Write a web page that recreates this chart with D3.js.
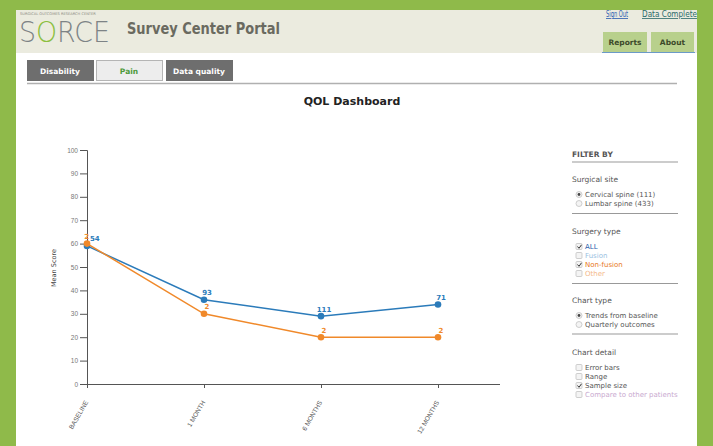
<!DOCTYPE html>
<html><head><meta charset="utf-8">
<script src="https://cdn.jsdelivr.net/npm/d3@7"></script>
<style>
html,body{margin:0;padding:0;background:#8fba4a;}
svg{display:block;font-family:"DejaVu Sans",Verdana,sans-serif;}
</style></head>
<body>
<svg id="c" width="713" height="446"></svg>
<script>
const categories = ["BASELINE", "1 MONTH", "6 MONTHS", "12 MONTHS"];
const allValues = [59, 36, 29, 34];
const allCounts = ["54", "93", "111", "71"];
const nonFusionValues = [60, 30, 20, 20];
const nonFusionCounts = ["2", "2", "2", "2"];
const yTicks = [0, 10, 20, 30, 40, 50, 60, 70, 80, 90, 100];
const seriesNames = ["ALL", "Non-fusion"];
const seriesColors = ["#2b7bba", "#f0892a"];

const svg = d3.select("#c");
// frame
svg.append("rect").attr("x",0).attr("y",0).attr("width",713).attr("height",446).attr("fill","#8fba4a");
svg.append("rect").attr("x",16).attr("y",10).attr("width",681).attr("height",436).attr("fill","#ffffff");
svg.append("rect").attr("x",16).attr("y",10).attr("width",681).attr("height",43).attr("fill","#ebebdf");

// header
svg.append("text").attr("x",20).attr("y",15).attr("font-size",3.6).attr("fill","#8a8a80").text("SURGICAL OUTCOMES RESEARCH CENTER");
const logo = svg.append("text").attr("x",19).attr("y",42).attr("font-size",29).attr("font-weight",300).attr("fill","#7d8386")
  .attr("textLength",91).attr("lengthAdjust","spacingAndGlyphs");
logo.append("tspan").text("S");
logo.append("tspan").attr("fill","#8cbf3f").text("O");
logo.append("tspan").text("RCE");
svg.append("text").attr("x",127).attr("y",34).attr("font-size",16).attr("font-weight","bold").attr("fill","#6a6a60")
  .attr("textLength",153).attr("lengthAdjust","spacingAndGlyphs").text("Survey Center Portal");
svg.append("text").attr("x",606).attr("y",17).attr("font-size",8).attr("fill","#2a5cb0").attr("text-decoration","underline")
  .attr("textLength",22).attr("lengthAdjust","spacingAndGlyphs").text("Sign Out");
svg.append("text").attr("x",642).attr("y",17).attr("font-size",8).attr("fill","#2a6a6a").attr("text-decoration","underline")
  .attr("textLength",55).attr("lengthAdjust","spacingAndGlyphs").text("Data Complete");
[["Reports",603,647],["About",651,694]].forEach(([t,x0,x1])=>{
  svg.append("rect").attr("x",x0).attr("y",32).attr("width",x1-x0).attr("height",20).attr("fill","#b8d08c");
  svg.append("text").attr("x",(x0+x1)/2).attr("y",45).attr("text-anchor","middle").attr("font-size",7.5).attr("font-weight","bold").attr("fill","#3d4a2a").text(t);
});
svg.append("line").attr("x1",602).attr("x2",695).attr("y1",52.5).attr("y2",52.5).attr("stroke","#6b9ac8").attr("stroke-width",1);

// tabs
[["Disability",27,93,true],["Pain",96,162,false],["Data quality",166,232,true]].forEach(([t,x0,x1,dark])=>{
  svg.append("rect").attr("x",x0+0.5).attr("y",60.5).attr("width",x1-x0).attr("height",20)
    .attr("fill",dark?"#6e6e6e":"#ededed").attr("stroke",dark?"#6e6e6e":"#b5b5b5");
  svg.append("text").attr("x",(x0+x1)/2).attr("y",74).attr("text-anchor","middle").attr("font-size",7.5).attr("font-weight","bold")
    .attr("fill",dark?"#ffffff":"#4e9a3a").text(t);
});
svg.append("line").attr("x1",27).attr("x2",677).attr("y1",83.5).attr("y2",83.5).attr("stroke","#b0b0b0").attr("stroke-width",1.5);

svg.append("text").attr("x",352).attr("y",105).attr("text-anchor","middle").attr("font-size",11).attr("font-weight","bold").attr("fill","#222").text("QOL Dashboard");

// chart
const x = d3.scalePoint().domain(categories).range([87, 438]);
const y = d3.scaleLinear().domain([0, 100]).range([384, 150]);
const g = svg.append("g");
const yAxis = g.append("g").attr("transform","translate(87,0)").call(d3.axisLeft(y).tickValues(yTicks).tickSize(7).tickPadding(2));
yAxis.selectAll("text").attr("font-size",6.5).attr("fill","#777");
yAxis.selectAll("line,path").attr("stroke","#555");
const xAxis = g.append("g").attr("transform","translate(0,384)").call(d3.axisBottom(x).tickSize(4).tickSizeOuter(0));
xAxis.select("path").attr("d","M87,0.5H500");
xAxis.selectAll("line,path").attr("stroke","#555");
xAxis.selectAll("text").attr("font-size",6.5).attr("fill","#555").attr("text-anchor","end")
  .attr("transform","translate(-1,17) rotate(-60)").attr("dy","0.35em").attr("y",0);
g.append("text").attr("transform","translate(56,268) rotate(-90)").attr("text-anchor","middle").attr("font-size",6.5).attr("fill","#444").text("Mean Score");

const series = [
  {vals: allValues, counts: allCounts, color: seriesColors[0], first: {dx: 3, anchor: "start"}},
  {vals: nonFusionValues, counts: nonFusionCounts, color: seriesColors[1], first: {dx: 2, anchor: "end"}}
];
const line = d3.line().x((d,i)=>x(categories[i])).y(d=>y(d));
series.forEach(s=>{
  g.append("path").datum(s.vals).attr("d",line).attr("fill","none").attr("stroke",s.color).attr("stroke-width",1.5);
  g.selectAll(null).data(s.vals).enter().append("circle").attr("cx",(d,i)=>x(categories[i])).attr("cy",d=>y(d)).attr("r",3.3).attr("fill",s.color);
  g.selectAll(null).data(s.vals).enter().append("text")
    .attr("x",(d,i)=>x(categories[i])+(i===0?s.first.dx:3)).attr("y",d=>y(d)-4.5)
    .attr("text-anchor",(d,i)=>i===0?s.first.anchor:"middle").attr("font-size",7).attr("font-weight","bold").attr("fill",s.color).text((d,i)=>s.counts[i]);
});

// right panel
const P = svg.append("g");
const lbl = (t,yy,opts={})=>P.append("text").attr("x",opts.x||572).attr("y",yy).attr("font-size",opts.size||7)
  .attr("font-weight",opts.bold?"bold":"normal").attr("fill",opts.color||"#555").text(t);
const hr = yy=>P.append("line").attr("x1",572).attr("x2",678).attr("y1",yy).attr("y2",yy).attr("stroke","#999").attr("stroke-width",1);
const radio=(yy,on)=>{P.append("circle").attr("cx",579).attr("cy",yy-2.5).attr("r",3).attr("fill","#f4f4f4").attr("stroke","#bbb").attr("stroke-width",0.7);
  if(on) P.append("circle").attr("cx",579).attr("cy",yy-2.5).attr("r",1.4).attr("fill","#444");};
const check=(yy,on)=>{P.append("rect").attr("x",576).attr("y",yy-5.5).attr("width",6).attr("height",6).attr("rx",1).attr("fill","#f4f4f4").attr("stroke","#bbb").attr("stroke-width",0.7);
  if(on) P.append("path").attr("d",`M577.5,${yy-2.5} l1.5,1.8 l2.5,-3.5`).attr("fill","none").attr("stroke","#333").attr("stroke-width",1);};
lbl("FILTER BY",157,{bold:true,size:7.5,color:"#555"});
hr(162);
lbl("Surgical site",182,{size:7.5});
radio(197,true); lbl("Cervical spine (111)",197,{x:585});
radio(206,false); lbl("Lumbar spine (433)",206,{x:585});
hr(213.5);
lbl("Surgery type",234,{size:7.5});
check(249,true); lbl("ALL",249,{x:585,color:"#2a5caa"});
check(258,false); lbl("Fusion",258,{x:585,color:"#9bbfdf"});
check(267,true); lbl("Non-fusion",267,{x:585,color:"#e8781e"});
check(276,false); lbl("Other",276,{x:585,color:"#f4b98a"});
hr(283.5);
lbl("Chart type",303,{size:7.5});
radio(318,true); lbl("Trends from baseline",318,{x:585});
radio(327,false); lbl("Quarterly outcomes",327,{x:585});
hr(334);
lbl("Chart detail",355,{size:7.5});
check(370,false); lbl("Error bars",370,{x:585});
check(379,false); lbl("Range",379,{x:585});
check(388,true); lbl("Sample size",388,{x:585});
check(397,false); lbl("Compare to other patients",397,{x:585,color:"#c9a9cf"});
</script>
</body></html>
